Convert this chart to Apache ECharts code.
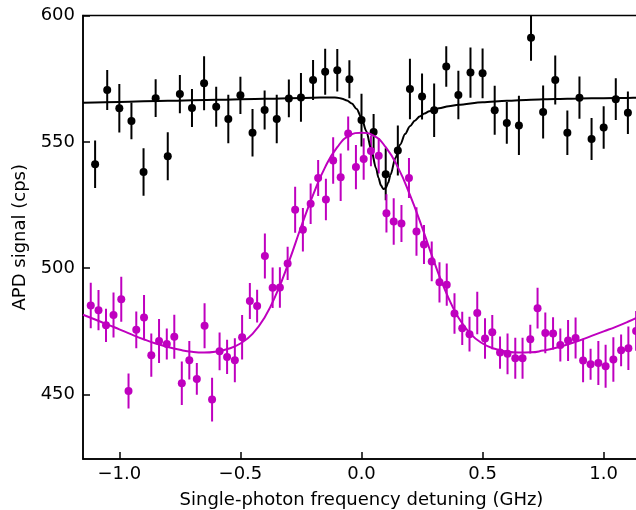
<!DOCTYPE html>
<html><head><meta charset="utf-8">
<script src="https://cdn.jsdelivr.net/npm/echarts@6/dist/echarts.min.js"></script>
<style>html,body{margin:0;padding:0;background:#fff}#c{width:636px;height:510px}</style>
</head><body><div id="c"></div>
<script>
// Black data (spectrum with dip)
const blackX = [-1.10,-1.05,-1.00,-0.95,-0.90,-0.85,-0.80,-0.75,-0.70,-0.65,-0.60,-0.55,-0.50,-0.45,-0.40,-0.35,-0.30,-0.25,-0.20,-0.15,-0.10,-0.05,0.00,0.05,0.10,0.15,0.20,0.25,0.30,0.35,0.40,0.45,0.50,0.55,0.60,0.65,0.70,0.75,0.80,0.85,0.90,0.95,1.00,1.05,1.10];
const blackY = [541.1,570.5,563.3,558.3,538.1,567.3,544.3,568.9,563.4,573.2,563.9,559.0,568.4,553.6,562.6,559.0,567.2,567.6,574.5,577.7,578.3,574.8,558.6,553.9,537.2,546.6,570.9,567.9,562.5,579.8,568.5,577.4,577.1,562.5,557.5,556.5,591.2,561.8,574.5,553.6,567.5,551.1,555.7,566.9,561.5];
const blackErr = [9.4,7.9,9.6,7.3,9.4,7.5,9.5,7.6,7.5,10.7,7.9,9.6,7.4,9.4,7.7,9.6,7.5,9.6,7.9,9.1,8.4,7.5,10.4,7.1,10.3,9.9,12.0,9.1,10.6,8.0,9.6,9.9,9.8,9.7,8.3,11.7,9.1,10.5,9.7,8.8,8.4,8.3,8.4,8.3,8.4];
// Black fit curve
const blackFitX = [-1.15,-1.0,-0.8,-0.6,-0.4,-0.2,-0.14,-0.12,-0.10,-0.08,-0.06,-0.04,-0.02,0.00,0.02,0.04,0.06,0.07,0.08,0.09,0.10,0.11,0.12,0.14,0.16,0.18,0.20,0.22,0.24,0.26,0.28,0.30,0.32,0.36,0.40,0.50,0.60,0.70,0.80,0.90,1.00,1.10,1.15];
const blackFitY = [565.5,565.8,566.3,566.7,567.1,567.5,567.6,567.6,567.5,567.1,566.4,565.2,563.0,559.5,554.2,547.0,539.6,535.8,532.8,531.3,531.7,533.8,537.0,543.6,549.0,553.1,556.2,558.4,560.0,561.2,562.1,562.8,563.3,564.1,564.7,565.7,566.3,566.7,567.0,567.2,567.3,567.4,567.45];
// Magenta data (broad peak)
const magX = [-1.118,-1.086,-1.055,-1.024,-0.992,-0.962,-0.930,-0.898,-0.868,-0.836,-0.804,-0.773,-0.742,-0.711,-0.680,-0.648,-0.617,-0.586,-0.555,-0.523,-0.493,-0.461,-0.431,-0.399,-0.367,-0.337,-0.305,-0.274,-0.242,-0.210,-0.179,-0.147,-0.117,-0.086,-0.055,-0.023,0.009,0.039,0.071,0.103,0.133,0.165,0.196,0.227,0.258,0.290,0.322,0.352,0.384,0.416,0.446,0.478,0.510,0.540,0.572,0.603,0.635,0.665,0.697,0.727,0.759,0.791,0.821,0.853,0.884,0.915,0.946,0.978,1.008,1.040,1.072,1.102,1.134];
const magY = [485.2,483.4,477.4,481.5,487.7,451.4,475.6,480.5,465.6,471.2,470.0,472.9,454.5,463.6,456.2,477.2,448.0,467.1,464.9,463.6,472.7,487.0,485.0,504.8,492.3,492.4,501.9,523.1,515.2,525.5,535.7,527.2,542.6,536.0,553.3,540.0,543.2,546.4,544.5,521.7,518.5,517.7,535.7,514.5,509.4,502.7,494.4,493.5,482.1,476.2,473.9,482.3,472.2,474.7,466.6,466.1,464.4,464.4,471.9,484.2,474.4,474.2,469.6,471.4,472.4,463.5,462.0,462.5,461.2,463.9,467.5,468.3,475.2];
const magErr = [9.0,8.0,6.6,8.9,8.9,6.9,7.3,8.9,8.6,8.7,6.1,8.7,8.6,7.6,6.3,8.9,8.7,7.5,6.8,8.7,8.8,7.1,6.5,8.9,8.0,8.0,6.6,9.1,8.6,8.0,7.1,8.2,9.2,9.4,6.7,8.8,8.2,6.1,7.0,7.6,9.2,7.3,7.9,9.6,7.7,7.9,8.0,8.4,8.0,6.6,6.9,8.4,8.0,6.8,6.4,8.1,8.1,8.1,5.7,8.1,8.1,6.4,6.5,8.1,8.1,8.6,6.1,8.7,8.5,8.8,6.3,8.6,7.9];
// Magenta fit curve
const magFitX = [-1.15,-1.10,-1.05,-1.00,-0.95,-0.90,-0.85,-0.80,-0.75,-0.70,-0.65,-0.60,-0.55,-0.50,-0.45,-0.40,-0.35,-0.30,-0.25,-0.20,-0.15,-0.10,-0.05,0.00,0.05,0.10,0.15,0.20,0.25,0.30,0.35,0.40,0.45,0.50,0.55,0.60,0.65,0.70,0.75,0.80,0.85,0.90,0.95,1.00,1.05,1.10,1.15];
const magFitY = [481.6,479.7,477.8,475.8,473.8,471.9,470.2,468.8,467.7,466.9,466.6,467.0,468.1,470.2,474.0,480.5,490.2,502.5,516.2,529.0,540.0,547.9,552.5,553.6,552.5,547.9,540.0,529.0,516.2,502.5,490.2,480.5,474.0,470.2,468.1,467.0,466.6,466.7,467.4,468.4,469.8,471.4,473.2,475.0,476.8,478.8,481.0];

const xTicks = [-1.0,-0.5,0.0,0.5,1.0];
const yTicks = [450,500,550,600];

const FONT = 'DejaVu Sans';
const BLACK = '#000000';
const MAG = '#bf00bf';

function zip(a,b){return a.map((v,i)=>[v,b[i]]);}
function errData(x,y,e){return x.map((v,i)=>[v,y[i]-e[i],y[i]+e[i]]);}
function errSeries(data,color){
  return {type:'custom',data:data,clip:true,z:2,
    renderItem:function(params,api){
      const p1=api.coord([api.value(0),api.value(1)]);
      const p2=api.coord([api.value(0),api.value(2)]);
      return {type:'line',shape:{x1:p1[0],y1:p1[1],x2:p2[0],y2:p2[1]},style:{stroke:color,lineWidth:2}};
    },
    encode:{x:0,y:[1,2]}};
}
function fmt(v){const s=Math.abs(v).toFixed(1);return (v<-1e-9?'\u2212':'')+s;}

const chart = echarts.init(document.getElementById('c'),null,{renderer:'canvas'});
chart.setOption({
  animation:false,
  backgroundColor:'#fff',
  grid:{left:83,right:-4,top:15.5,bottom:51,containLabel:false,outerBoundsMode:'none',show:true,borderColor:'#000',borderWidth:1.5,backgroundColor:'transparent'},
  xAxis:{type:'value',min:-1.15,max:1.15,
    axisLine:{show:true,onZero:false,lineStyle:{color:'#000',width:1.5}},
    axisTick:{show:true,inside:true,length:7,customValues:xTicks,lineStyle:{color:'#000',width:1.5}},
    axisLabel:{show:true,customValues:xTicks,formatter:fmt,color:'#000',fontFamily:FONT,fontSize:18,margin:6},
    splitLine:{show:false},
    name:'Single-photon frequency detuning (GHz)',nameLocation:'middle',nameGap:32,
    nameTextStyle:{color:'#000',fontFamily:FONT,fontSize:18}},
  yAxis:{type:'value',min:424.5,max:600,
    axisLine:{show:true,onZero:false,lineStyle:{color:'#000',width:1.5}},
    axisTick:{show:true,inside:true,length:7,customValues:yTicks,lineStyle:{color:'#000',width:1.5}},
    axisLabel:{show:true,customValues:yTicks,color:'#000',fontFamily:FONT,fontSize:18,margin:8},
    splitLine:{show:false},
    name:'APD signal (cps)',nameLocation:'middle',nameGap:53,nameRotate:90,
    nameTextStyle:{color:'#000',fontFamily:FONT,fontSize:18}},
  series:[
    errSeries(errData(blackX,blackY,blackErr),BLACK),
    {type:'line',data:zip(blackFitX,blackFitY),smooth:0.3,smoothMonotone:'x',showSymbol:false,symbol:'none',
      lineStyle:{color:BLACK,width:2},z:3,clip:true},
    {type:'scatter',data:zip(blackX,blackY),symbol:'circle',symbolSize:8,itemStyle:{color:BLACK,opacity:1},z:4,clip:true},
    errSeries(errData(magX,magY,magErr),MAG),
    {type:'line',data:zip(magFitX,magFitY),smooth:0.5,showSymbol:false,symbol:'none',
      lineStyle:{color:MAG,width:2},z:5,clip:true},
    {type:'scatter',data:zip(magX,magY),symbol:'circle',symbolSize:8,itemStyle:{color:MAG,opacity:1},z:6,clip:true}
  ]
});
</script></body></html>
